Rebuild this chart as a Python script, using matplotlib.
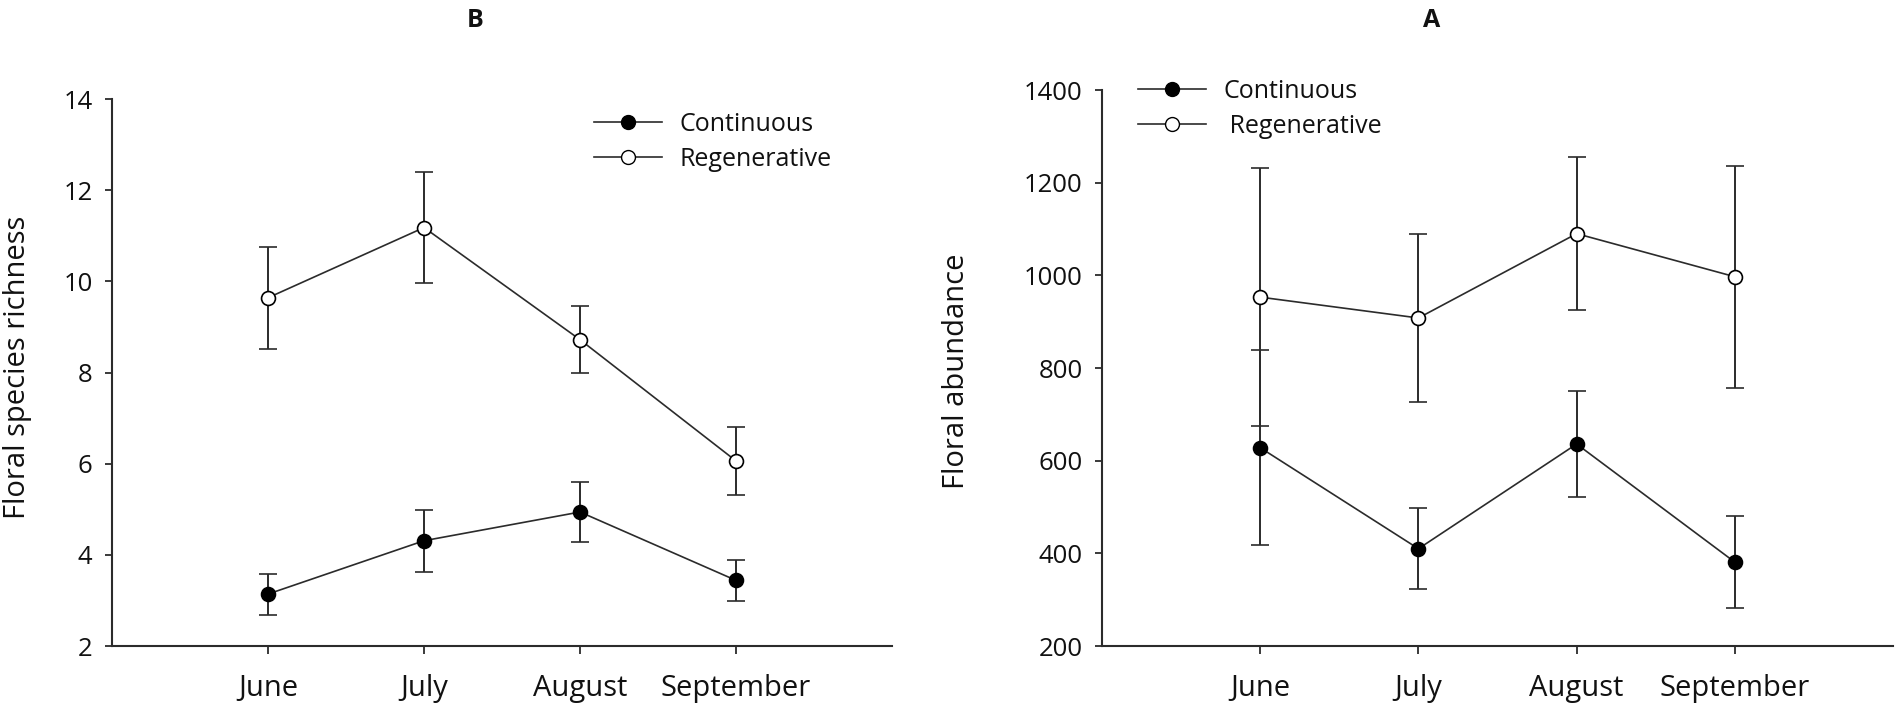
import matplotlib
matplotlib.use('Agg')
import matplotlib.pyplot as plt
from matplotlib.lines import Line2D

# ===== DATA =====
months = ["June", "July", "August", "September"]
x_pos = [1, 2, 3, 4]

# panel B - floral species richness
rich_cont = [3.14, 4.31, 4.94, 3.44]
rich_cont_err = [0.45, 0.68, 0.65, 0.45]
rich_regen = [9.64, 11.18, 8.72, 6.06]
rich_regen_err = [1.12, 1.21, 0.73, 0.74]

# panel A - floral abundance
abun_cont = [628, 410, 636, 381]
abun_cont_err = [210, 87, 115, 99]
abun_regen = [953, 908, 1090, 997]
abun_regen_err = [279, 182, 165, 240]

# ===== STYLE =====
plt.rcParams['font.family'] = ['Open Sans', 'DejaVu Sans']
LINE = '#2b2b2b'
TEXT = '#111111'

fig = plt.figure(figsize=(19.02, 7.19), dpi=100)
axB = fig.add_axes([0.0589, 0.1015, 0.4101, 0.7608])
axA = fig.add_axes([0.5794, 0.1015, 0.4159, 0.7733])


def draw_series(ax, y, err, face):
    ax.errorbar(x_pos, y, yerr=err, color=LINE, ecolor=LINE, elinewidth=1.4,
                capsize=6.5, capthick=1.4, linewidth=1.2, marker='o',
                markersize=10, markerfacecolor=face, markeredgecolor='black',
                markeredgewidth=1.2, zorder=3)


def style_axes(ax):
    for side in ['top', 'right']:
        ax.spines[side].set_visible(False)
    for side in ['left', 'bottom']:
        ax.spines[side].set_linewidth(1.5)
        ax.spines[side].set_color(LINE)
    ax.set_xlim(0, 5)
    ax.set_xticks(x_pos)
    ax.set_xticklabels(months)
    ax.tick_params(axis='x', direction='out', length=6, width=1.3, color=LINE,
                   labelsize=21, pad=14, labelcolor=TEXT)
    ax.tick_params(axis='y', direction='out', length=5, width=1.3, color=LINE,
                   labelsize=18.5, pad=9, labelcolor=TEXT)


def add_legend(ax, anchor, regen_label):
    handles = [
        Line2D([], [], color=LINE, linewidth=1.2, marker='o', markersize=10,
               markerfacecolor='black', markeredgecolor='black'),
        Line2D([], [], color=LINE, linewidth=1.2, marker='o', markersize=10,
               markerfacecolor='white', markeredgecolor='black'),
    ]
    ax.legend(handles, ['Continuous', regen_label], loc='upper left',
              bbox_to_anchor=anchor, frameon=False, fontsize=18,
              handlelength=2.7, handletextpad=0.7, labelspacing=0.4,
              borderpad=0, borderaxespad=0, labelcolor=TEXT)


# ===== PANEL B =====
draw_series(axB, rich_cont, rich_cont_err, 'black')
draw_series(axB, rich_regen, rich_regen_err, 'white')
style_axes(axB)
axB.set_ylim(2, 14)
axB.set_yticks([2, 4, 6, 8, 10, 12, 14])
axB.set_ylabel('Floral species richness', fontsize=21, color=TEXT)
axB.yaxis.set_label_coords(-0.102, 0.51)
add_legend(axB, (0.618, 0.977), 'Regenerative')
fig.text(0.2497, 0.972, 'B', ha='center', va='center', fontsize=18,
         fontweight='bold', color=TEXT)

# ===== PANEL A =====
draw_series(axA, abun_cont, abun_cont_err, 'black')
draw_series(axA, abun_regen, abun_regen_err, 'white')
style_axes(axA)
axA.set_ylim(200, 1400)
axA.set_yticks([200, 400, 600, 800, 1000, 1200, 1400])
axA.set_ylabel('Floral abundance', fontsize=21, color=TEXT)
axA.yaxis.set_label_coords(-0.1656, 0.495)
add_legend(axA, (0.0455, 1.02), ' Regenerative')
fig.text(0.7529, 0.972, 'A', ha='center', va='center', fontsize=18,
         fontweight='bold', color=TEXT)

fig.savefig('out.png', dpi=100)
plt.close(fig)
